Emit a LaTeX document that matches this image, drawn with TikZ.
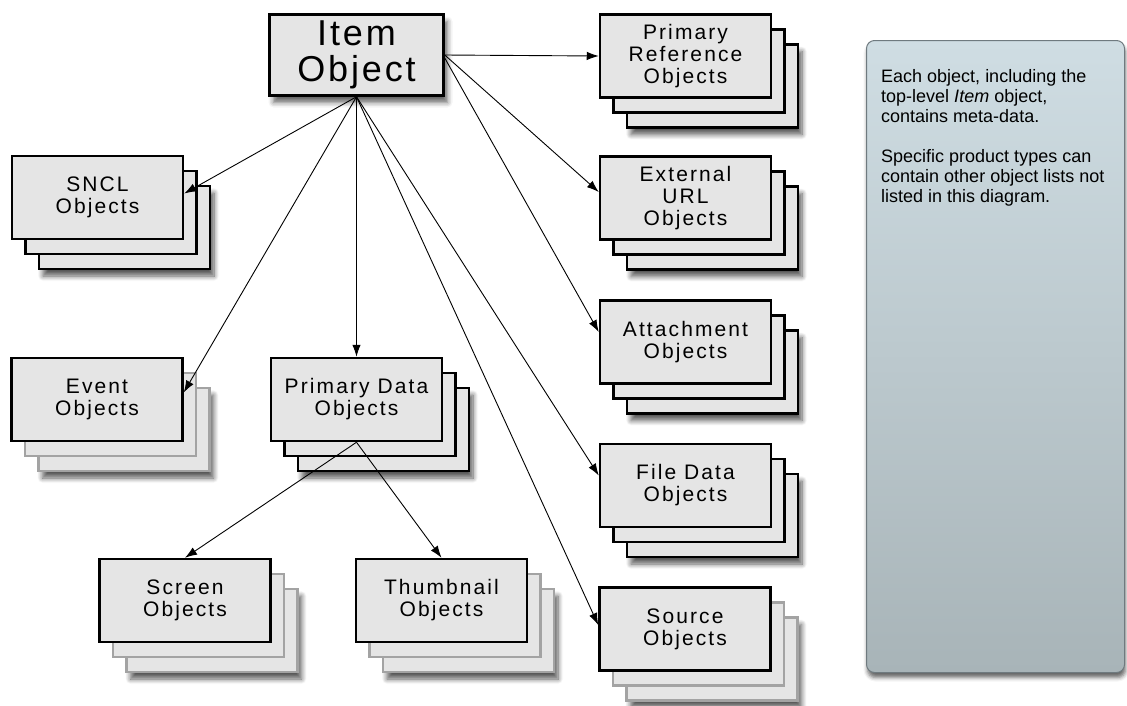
\documentclass[tikz,border=0pt]{standalone}
\usepackage{fontspec}
\setmainfont{Liberation Sans}
\newfontfamily\boxfont[LetterSpace=10]{Liberation Sans}
\newfontfamily\itemfont[LetterSpace=8]{Liberation Sans}
\usetikzlibrary{arrows.meta, shadows, shadows.blur}
\tikzset{>={Latex[length=12pt,width=8.5pt]}}
\definecolor{sheetgray}{HTML}{E5E5E5}
\definecolor{edgegray}{HTML}{A3A3A3}
\definecolor{notetop}{HTML}{CFDDE3}
\definecolor{notebottom}{HTML}{A8B4B8}
\definecolor{noteedge}{HTML}{6F7A7F}
\tikzstyle{sheet}=[draw=black, line width=2.5pt, fill=sheetgray, minimum width=171pt, minimum height=83pt, inner sep=0pt, align=center, font=\boxfont\fontsize{21}{22}\selectfont]
\tikzset{
  stack/.style={sheet,
    blur shadow={shadow xshift=31pt, shadow yshift=-37pt, shadow blur radius=5pt, shadow blur steps=8, shadow opacity=65},
    double copy shadow={shadow xshift=13.5pt, shadow yshift=-15pt, fill=sheetgray, draw=#1, line width=2.5pt}},
  stack/.default=black,
  link/.style={->, line width=0.9pt}
}

\begin{document}
\begin{tikzpicture}[x=1pt, y=-1pt]
  \useasboundingbox (0,0) rectangle (1127,705);

  % top item
  \node[sheet, minimum width=174pt, minimum height=81pt, font=\itemfont\fontsize{36}{36}\selectfont,
        blur shadow={shadow xshift=4pt, shadow yshift=-7pt, shadow blur radius=5pt, shadow opacity=60}] (item) at (356.5,55) {Item\\Object};

  % left column
  \node[stack] (sncl) at (97.5,197.5) {SNCL\\Objects};
  \node[stack=edgegray] (event) at (97,399.5) {Event\\Objects};
  \node[stack] (pdata) at (356.5,399.5) {Primary Data\\Objects};
  \node[stack=edgegray] (screen) at (185,600.5) {Screen\\Objects};
  \node[stack=edgegray] (thumb) at (441.5,600.5) {Thumbnail\\Objects};

  % right column
  \node[stack] (pref) at (685.5,56) {Primary\\Reference\\Objects};
  \node[stack] (exturl) at (685.5,198) {External\\URL\\Objects};
  \node[stack] (attach) at (685.5,342) {Attachment\\Objects};
  \node[stack] (filedata) at (685.5,485.5) {File Data\\Objects};
  \node[stack=edgegray] (source) at (685,629) {Source\\Objects};

  % note
  \node[draw=noteedge, line width=1pt, rounded corners=8pt, top color=notetop, bottom color=notebottom,
        minimum width=258pt, minimum height=632pt,
        blur shadow={shadow xshift=1pt, shadow yshift=-5pt, shadow blur radius=4pt, shadow opacity=60}] (note) at (995.5,356.5) {};
  \node[anchor=north west, align=left, inner sep=0pt, font=\fontsize{18}{20}\selectfont] (notetext) at ([xshift=15pt,yshift=-29pt]note.north west)
    {Each object, including the\\top-level \textit{Item} object,\\contains meta-data.\\[20pt]Specific product types can\\contain other object lists not\\listed in this diagram.};

  \draw[link] (item.east) -- (pref.west);
  \draw[link] (item.east) -- ([yshift=6pt]exturl.west);
  \draw[link] ([yshift=-3pt]item.east) -- ([yshift=10pt]attach.west);
  \draw[link] (item.south) -- ([yshift=4pt]sncl.east);
  \draw[link] (item.south) -- ([yshift=7pt]event.east);
  \draw[link] (item.south) -- (pdata.north);
  \draw[link] (item.south) -- ([yshift=10pt]filedata.west);
  \draw[link] (item.south) -- ([yshift=4pt]source.west);
  \draw[link] (pdata.south) -- (screen.north);
  \draw[link] (pdata.south) -- (thumb.north);
\end{tikzpicture}
\end{document}
